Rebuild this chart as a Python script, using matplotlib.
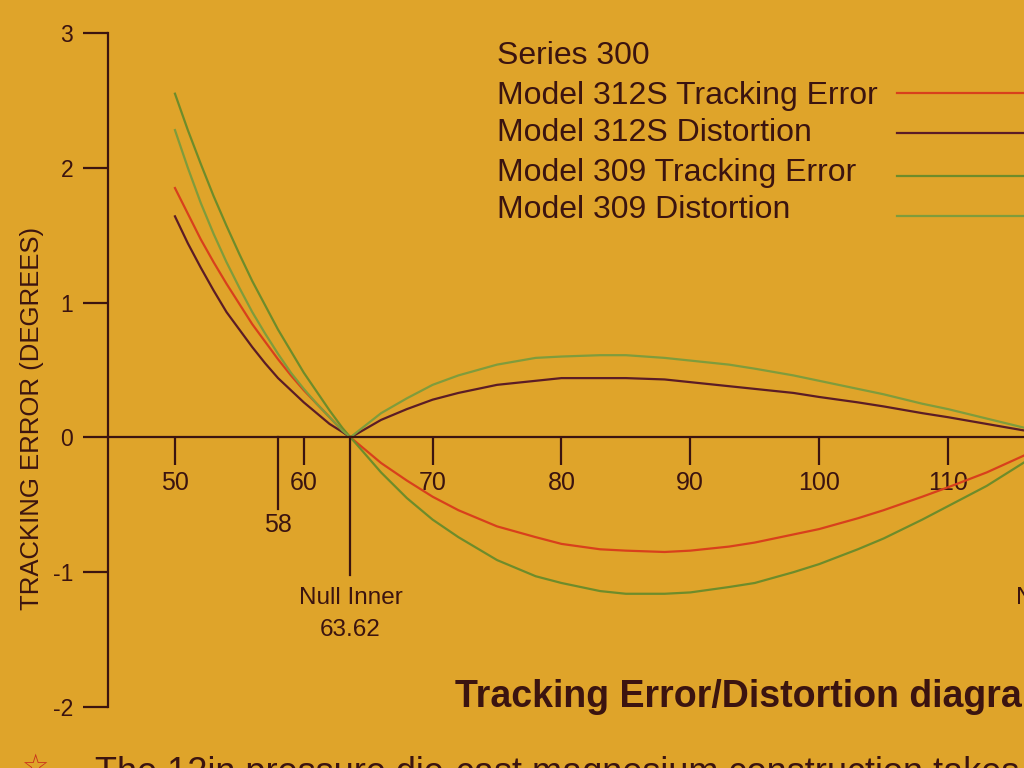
import matplotlib
matplotlib.use("Agg")
import matplotlib.pyplot as plt
from matplotlib.lines import Line2D

plt.rcParams["font.family"] = ["Liberation Sans", "DejaVu Sans"]

# radius (mm) vs error in degrees
radius = [50, 51, 52, 53, 54, 55, 56, 57, 58, 59, 60, 61, 62, 63, 63.62, 64, 66, 68, 70, 72,
          75, 78, 80, 83, 85, 88, 90, 93, 95, 98, 100, 103, 105, 108, 110, 113, 116]
te_312s = [1.85, 1.66, 1.47, 1.30, 1.14, 0.99, 0.84, 0.71, 0.58, 0.46, 0.35, 0.25, 0.15, 0.05,
           0.0, -0.03, -0.19, -0.32, -0.44, -0.54, -0.66, -0.74, -0.79, -0.83, -0.84, -0.85,
           -0.84, -0.81, -0.78, -0.72, -0.68, -0.60, -0.54, -0.44, -0.37, -0.26, -0.13]
dist_312s = [1.64, 1.44, 1.26, 1.09, 0.93, 0.80, 0.67, 0.55, 0.44, 0.35, 0.26, 0.18, 0.10, 0.04,
             0.0, 0.02, 0.13, 0.21, 0.28, 0.33, 0.39, 0.42, 0.44, 0.44, 0.44, 0.43, 0.41,
             0.38, 0.36, 0.33, 0.30, 0.26, 0.23, 0.18, 0.15, 0.10, 0.05]
te_309 = [2.55, 2.28, 2.03, 1.79, 1.57, 1.36, 1.16, 0.98, 0.80, 0.64, 0.48, 0.34, 0.20, 0.07,
          0.0, -0.04, -0.26, -0.45, -0.61, -0.74, -0.91, -1.03, -1.08, -1.14, -1.16, -1.16,
          -1.15, -1.11, -1.08, -1.00, -0.94, -0.83, -0.75, -0.61, -0.51, -0.36, -0.18]
dist_309 = [2.28, 2.00, 1.74, 1.51, 1.30, 1.11, 0.93, 0.77, 0.62, 0.48, 0.36, 0.25, 0.15, 0.05,
            0.0, 0.03, 0.18, 0.29, 0.39, 0.46, 0.54, 0.59, 0.60, 0.61, 0.61, 0.59, 0.57,
            0.54, 0.51, 0.46, 0.42, 0.36, 0.32, 0.25, 0.21, 0.14, 0.07]

series_names = ["Model 312S Tracking Error", "Model 312S Distortion",
                "Model 309 Tracking Error", "Model 309 Distortion"]
x_ticks = [50, 60, 70, 80, 90, 100, 110]
y_ticks = [-2, -1, 0, 1, 2, 3]
null_inner = 63.62
null_outer = 119.5
marker_58 = 58

BG = "#DFA42A"
INK = "#3b1410"
colors = ["#d8401c", "#5b1c26", "#6e8c2a", "#7f9c3c"]

fig = plt.figure(figsize=(10.24, 7.68), dpi=100, facecolor=BG)
ax = fig.add_axes([0, 0, 1, 1], facecolor=BG)
ax.set_xlim(36.42, 115.9)
ax.set_ylim(-2.4525, 3.245)

for vals, c in zip([te_312s, dist_312s, te_309, dist_309], colors):
    ax.plot(radius, vals, color=c, linewidth=1.6)

# axes styled like the poster
for s in ["top", "right"]:
    ax.spines[s].set_visible(False)
ax.spines["left"].set_position(("data", 44.8))
ax.spines["left"].set_bounds(-2, 3)
ax.spines["bottom"].set_position(("data", 0))
ax.spines["bottom"].set_bounds(44.8, 116)
for s in ["left", "bottom"]:
    ax.spines[s].set_color(INK)
    ax.spines[s].set_linewidth(1.6)

ax.set_xticks(x_ticks)
ax.set_xticklabels([str(t) for t in x_ticks])
ax.set_yticks(y_ticks)
ax.set_yticklabels([str(t) for t in y_ticks])
ax.tick_params(axis="x", direction="out", length=20, width=1.6, color=INK,
               labelcolor=INK, labelsize=18, pad=4)
ax.tick_params(axis="y", direction="out", length=18, width=1.6, color=INK,
               labelcolor=INK, labelsize=16.5, pad=7)

# special markers below the axis
ax.plot([marker_58, marker_58], [0, -0.53], color=INK, linewidth=1.6)
ax.text(marker_58, -0.65, "58", ha="center", va="center", fontsize=18, color=INK)
ax.plot([null_inner, null_inner], [0, -1.02], color=INK, linewidth=1.6)
ax.text(null_inner, -1.19, "Null Inner", ha="center", va="center", fontsize=17.5, color=INK)
ax.text(null_inner, -1.43, "63.62", ha="center", va="center", fontsize=17.5, color=INK)
ax.text(null_outer, -1.19, "Null Outer", ha="center", va="center", fontsize=17.5,
        color=INK, clip_on=False)

fig.text(32 / 1024, 1 - 418 / 768, "TRACKING ERROR (DEGREES)", rotation=90,
         ha="center", va="center", fontsize=18.5, color=INK)

# legend drawn like the printed one
fig.text(497 / 1024, 1 - 56 / 768, "Series 300", ha="left", va="center",
         fontsize=23, color=INK)
rows_y = [96, 133, 173, 210]
line_y = [93, 133, 176, 216]
for name, c, ty, ly in zip(series_names, colors, rows_y, line_y):
    fig.text(497 / 1024, 1 - ty / 768, name, ha="left", va="center", fontsize=23, color=INK)
    fig.add_artist(Line2D([897 / 1024, 1.02], [1 - ly / 768, 1 - ly / 768],
                          color=c, linewidth=1.6, transform=fig.transFigure))

fig.text(455 / 1024, 1 - 697 / 768, "Tracking Error/Distortion diagram",
         ha="left", va="center", fontsize=27, fontweight="bold", color=INK)
fig.text(95 / 1024, 1 - 756 / 768, "The 12in pressure die-cast magnesium construction takes",
         ha="left", va="top", fontsize=26, color=INK)
fig.text(35 / 1024, 1 - 768 / 768, "\u2606", ha="center", va="center",
         fontsize=22, color="#c8301c")

fig.savefig("out.png", dpi=100, facecolor=BG)
